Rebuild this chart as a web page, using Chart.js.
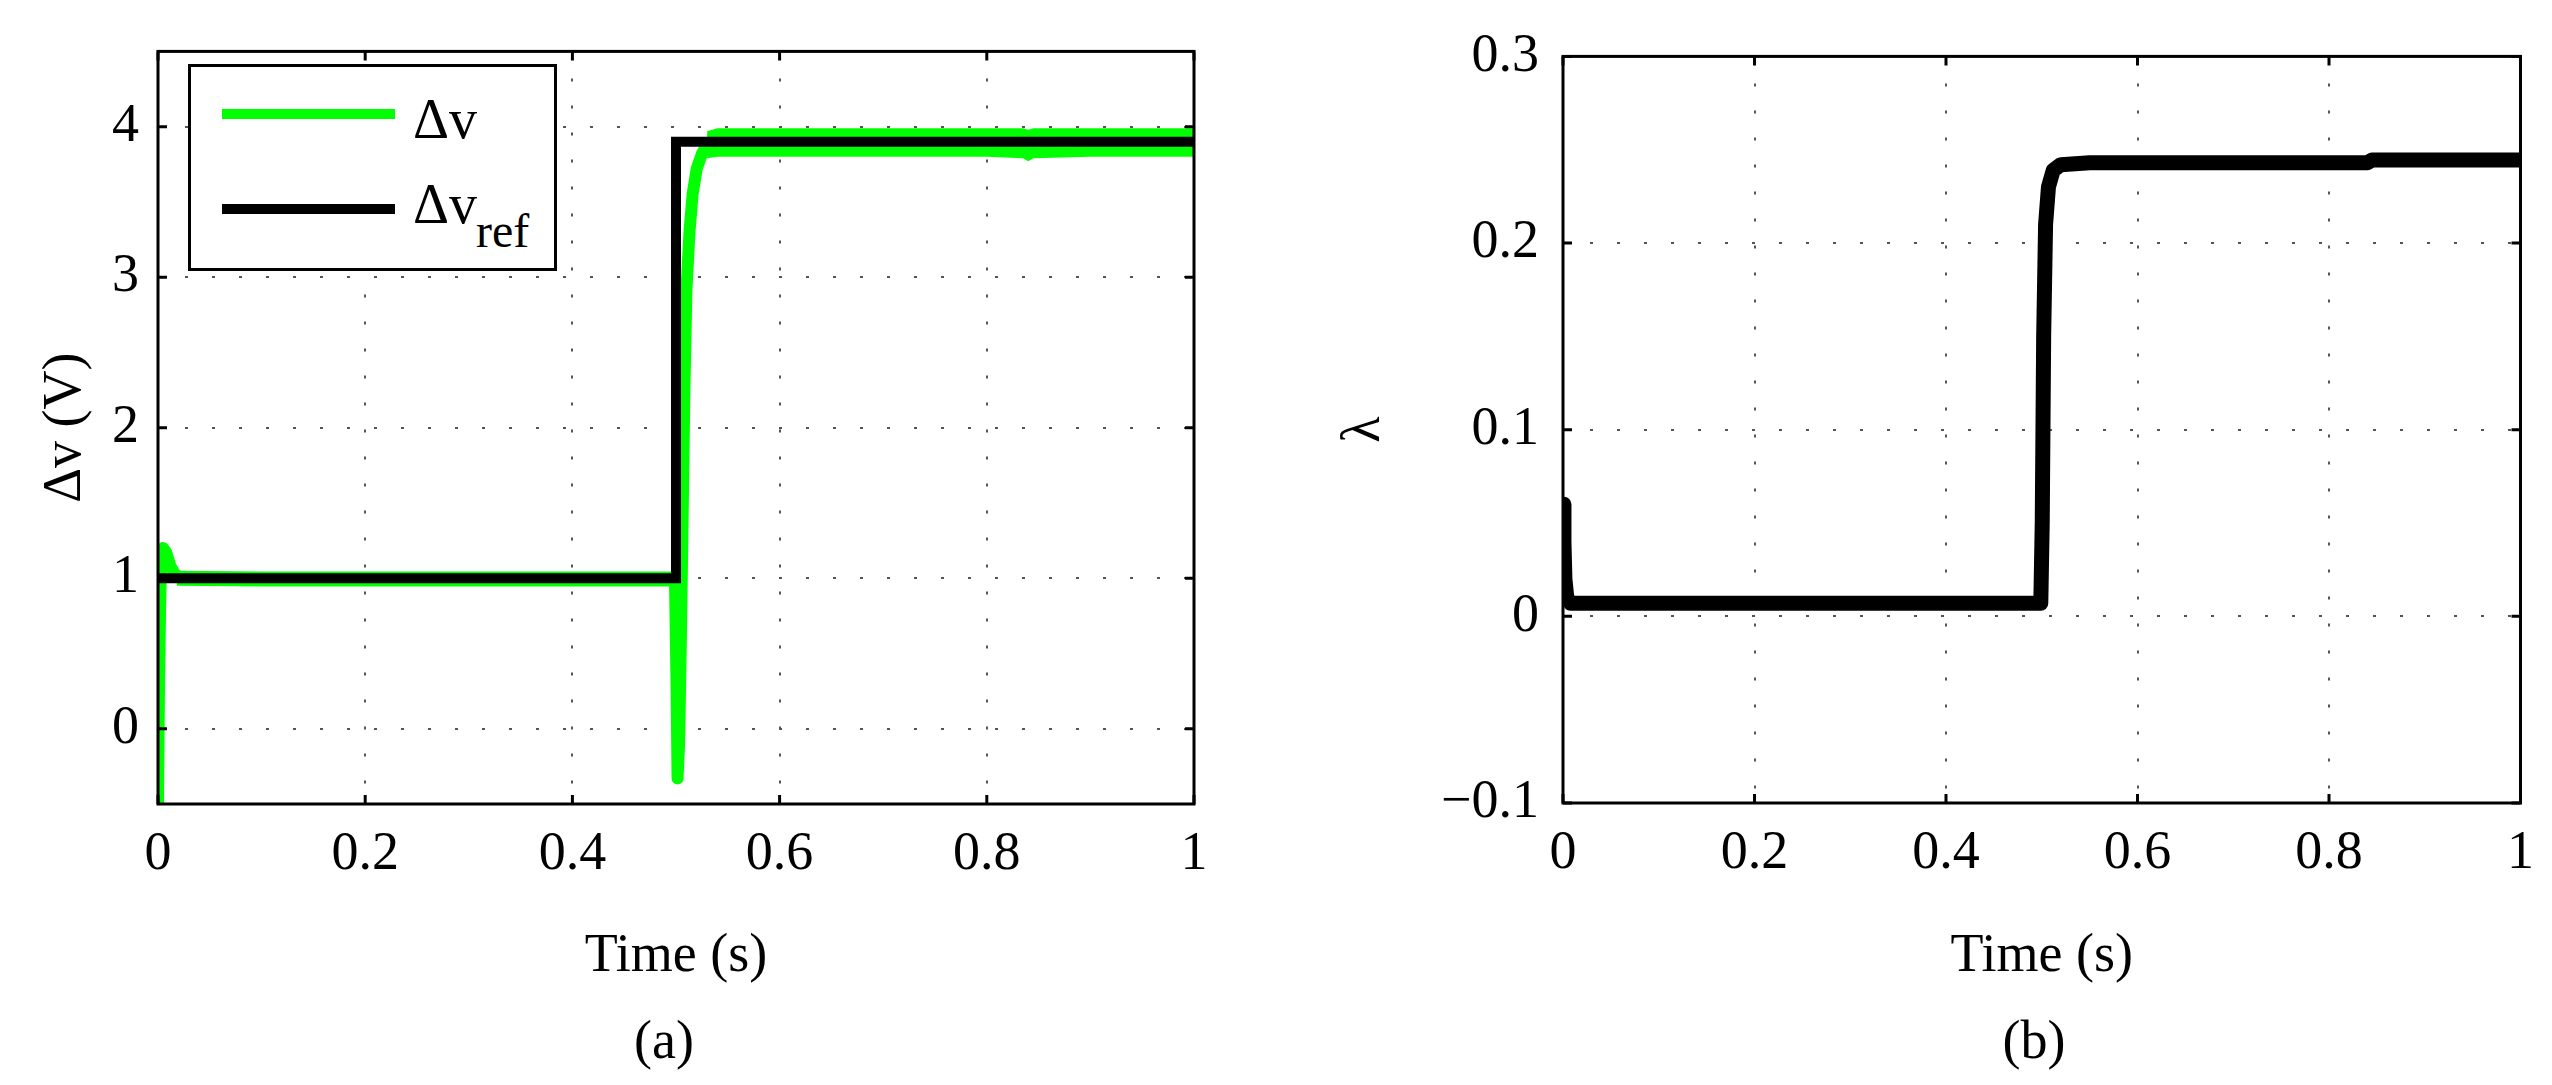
<!DOCTYPE html>
<html>
<head>
<meta charset="utf-8">
<script src="https://cdn.jsdelivr.net/npm/chart.js@4/dist/chart.umd.min.js"></script>
<style>
    body { margin: 0; background: #fff; width: 2552px; height: 1085px; position: relative; overflow: hidden; font-family: "Liberation Serif", "Times New Roman", serif; }
    canvas { position: absolute; top: 0; }
    #grafica-a { left: 0; }
    #grafica-b { left: 1250px; }
    .leyenda { position: absolute; left: 188px; top: 64px; width: 363px; height: 201px; border: 3px solid #000; background: #fff; }
    .muestra { position: absolute; left: 31px; width: 173px; height: 10px; }
    .txt { position: absolute; line-height: 1em; white-space: nowrap; color: #000; }
    .pie { position: absolute; font-size: 54px; line-height: 54px; top: 1013px; width: 200px; text-align: center; color: #000; }
</style>
</head>
<body>
<canvas id="grafica-a" width="1250" height="1085"></canvas>
<canvas id="grafica-b" width="1302" height="1085"></canvas>

<div class="leyenda">
    <div class="muestra" style="top: 42px; background: #00ff00;"></div>
    <div class="muestra" style="top: 137px; background: #000;"></div>
    <div class="txt" style="left: 222px; top: 24px; font-size: 56px;">Δv</div>
    <div class="txt" style="left: 222px; top: 109px; font-size: 56px;">Δv</div>
    <div class="txt" style="left: 285px; top: 140px; font-size: 48px;">ref</div>
</div>

<div class="pie" style="left: 564px;">(a)</div>
<div class="pie" style="left: 1934px;">(b)</div>

<script>
//? Datos
const xTicks = [0, 0.2, 0.4, 0.6, 0.8, 1]
const xTickLabels = ['0', '0.2', '0.4', '0.6', '0.8', '1']
const yTicksA = [0, 1, 2, 3, 4]
const yTickLabelsA = ['0', '1', '2', '3', '4']
const yTicksB = [-0.1, 0, 0.1, 0.2, 0.3]
const yTickLabelsB = ['\u22120.1', '0', '0.1', '0.2', '0.3']

// referencia Δv_ref
const refTime = [0, 0.5, 0.5, 1]
const refValue = [1, 1, 3.9, 3.9]

// Δv medida (trayectoria central)
const dvTime = [0, 0.001, 0.002, 0.003, 0.005, 0.008, 0.012, 0.016, 0.022, 0.3, 0.499, 0.5005, 0.5015, 0.503, 0.5045, 0.506, 0.508, 0.51, 0.513, 0.516, 0.52, 0.525, 0.53, 0.54, 0.7, 0.84, 0.9, 1]
const dvValue = [-0.5, 0.3, 0.8, 1.1, 1.2, 1.17, 1.08, 1.03, 1.0, 1.0, 1.0, 0.3, -0.33, -0.1, 0.5, 1.2, 2.2, 2.9, 3.3, 3.55, 3.72, 3.82, 3.88, 3.9, 3.9, 3.88, 3.9, 3.9]

// banda de rizado de Δv antes del escalon
const preTime = [0.018, 0.1, 0.3, 0.499]
const preUpper = [1.05, 1.045, 1.045, 1.045]
const preLower = [0.95, 0.945, 0.945, 0.945]

// banda de rizado de Δv en estado estable
const bandTime = [0.53, 0.54, 0.6, 0.7, 0.8, 0.835, 0.84, 0.845, 0.9, 1]
const bandUpper = [3.97, 3.99, 3.99, 3.99, 3.99, 3.99, 3.98, 3.99, 3.99, 3.99]
const bandLower = [3.79, 3.8, 3.8, 3.8, 3.8, 3.79, 3.77, 3.79, 3.8, 3.8]

// λ
const lamTime = [0, 0.001, 0.002, 0.004, 0.008, 0.3, 0.499, 0.5005, 0.502, 0.504, 0.507, 0.512, 0.52, 0.55, 0.84, 0.845, 1]
const lamValue = [0.06, 0.04, 0.02, 0.01, 0.007, 0.007, 0.007, 0.05, 0.15, 0.21, 0.23, 0.239, 0.242, 0.243, 0.243, 0.2445, 0.2445]

const pares = (xs, ys) => xs.map((x, i) => ({ x: x, y: ys[i] }))

const fuente = { family: '"Liberation Serif", "Times New Roman", serif', size: 54 }

//? Marco negro y marcas interiores estilo MATLAB
const marco = {
    id: 'marco',
    afterDraw(chart) {
        const { ctx, chartArea: a, scales: { x, y } } = chart
        ctx.save()
        ctx.strokeStyle = '#000'
        ctx.lineWidth = 3
        ctx.strokeRect(a.left, a.top, a.right - a.left, a.bottom - a.top)
        ctx.beginPath()
        x.ticks.forEach(t => {
            const px = x.getPixelForValue(t.value)
            ctx.moveTo(px, a.bottom); ctx.lineTo(px, a.bottom - 9)
            ctx.moveTo(px, a.top); ctx.lineTo(px, a.top + 9)
        })
        y.ticks.forEach(t => {
            const py = y.getPixelForValue(t.value)
            ctx.moveTo(a.left, py); ctx.lineTo(a.left + 9, py)
            ctx.moveTo(a.right, py); ctx.lineTo(a.right - 9, py)
        })
        ctx.stroke()
        ctx.restore()
    }
}

const ejes = (yMin, yMax, yTicks, yLabels, yTitulo, anchoY, altoX, pTitulo, pTicks) => ({
    x: {
        type: 'linear',
        min: 0,
        max: 1,
        afterBuildTicks: s => { s.ticks = xTicks.map(v => ({ value: v })) },
        afterFit: s => { s.height = altoX },
        ticks: { font: fuente, color: '#000', padding: 18, maxRotation: 0, callback: (v, i) => xTickLabels[i] },
        grid: { color: '#555', lineWidth: 2, drawTicks: false },
        border: { display: false, dash: [3, 24] },
        title: { display: true, text: 'Time (s)', font: fuente, color: '#000', padding: { top: 0, bottom: 96 } }
    },
    y: {
        type: 'linear',
        min: yMin,
        max: yMax,
        afterBuildTicks: s => { s.ticks = yTicks.map(v => ({ value: v })) },
        afterFit: s => { s.width = anchoY },
        ticks: { font: fuente, color: '#000', padding: pTicks, callback: (v, i) => yLabels[i] },
        grid: { color: '#555', lineWidth: 2, drawTicks: false },
        border: { display: false, dash: [3, 24] },
        title: { display: true, text: yTitulo, font: fuente, color: '#000', padding: { top: pTitulo, bottom: 0 } }
    }
})

const banda = (label, datos, relleno) => ({
    label: label,
    data: datos,
    borderWidth: 0,
    borderColor: '#00ff00',
    backgroundColor: '#00ff00',
    pointRadius: 0,
    tension: 0,
    fill: relleno,
    clip: 0,
    order: 2
})

//? Grafica (a)
const grafA = new Chart(document.getElementById('grafica-a'), {
    type: 'line',
    data: {
        datasets: [
            { label: 'Δv_ref', data: pares(refTime, refValue), borderColor: '#000', borderWidth: 10, borderJoinStyle: 'miter', pointRadius: 0, tension: 0, clip: 0, order: 0 },
            { label: 'Δv', data: pares(dvTime, dvValue), borderColor: '#00ff00', borderWidth: 12, borderJoinStyle: 'round', pointRadius: 0, tension: 0, clip: 0, order: 1 },
            banda('banda alta', pares(bandTime, bandUpper), false),
            banda('banda baja', pares(bandTime, bandLower), 2),
            banda('pre alta', pares(preTime, preUpper), false),
            banda('pre baja', pares(preTime, preLower), 4)
        ]
    },
    options: {
        responsive: false,
        animation: false,
        layout: { padding: { top: 33, right: 56, left: 0, bottom: 0 } },
        plugins: { legend: { display: false }, tooltip: { enabled: false } },
        scales: ejes(-0.5, 4.5, yTicksA, yTickLabelsA, 'Δv (V)', 158, 281, 33, 19)
    },
    plugins: [marco]
})

//? Grafica (b)
const grafB = new Chart(document.getElementById('grafica-b'), {
    type: 'line',
    data: {
        datasets: [
            { label: 'λ', data: pares(lamTime, lamValue), borderColor: '#000', borderWidth: 15, borderJoinStyle: 'round', pointRadius: 0, tension: 0, clip: 0 }
        ]
    },
    options: {
        responsive: false,
        animation: false,
        layout: { padding: { top: 35, right: 23, left: 0, bottom: 0 } },
        plugins: { legend: { display: false }, tooltip: { enabled: false } },
        scales: ejes(-0.1, 0.3, yTicksB, yTickLabelsB, 'λ', 313, 282, 82, 24)
    },
    plugins: [marco]
})
</script>
</body>
</html>
